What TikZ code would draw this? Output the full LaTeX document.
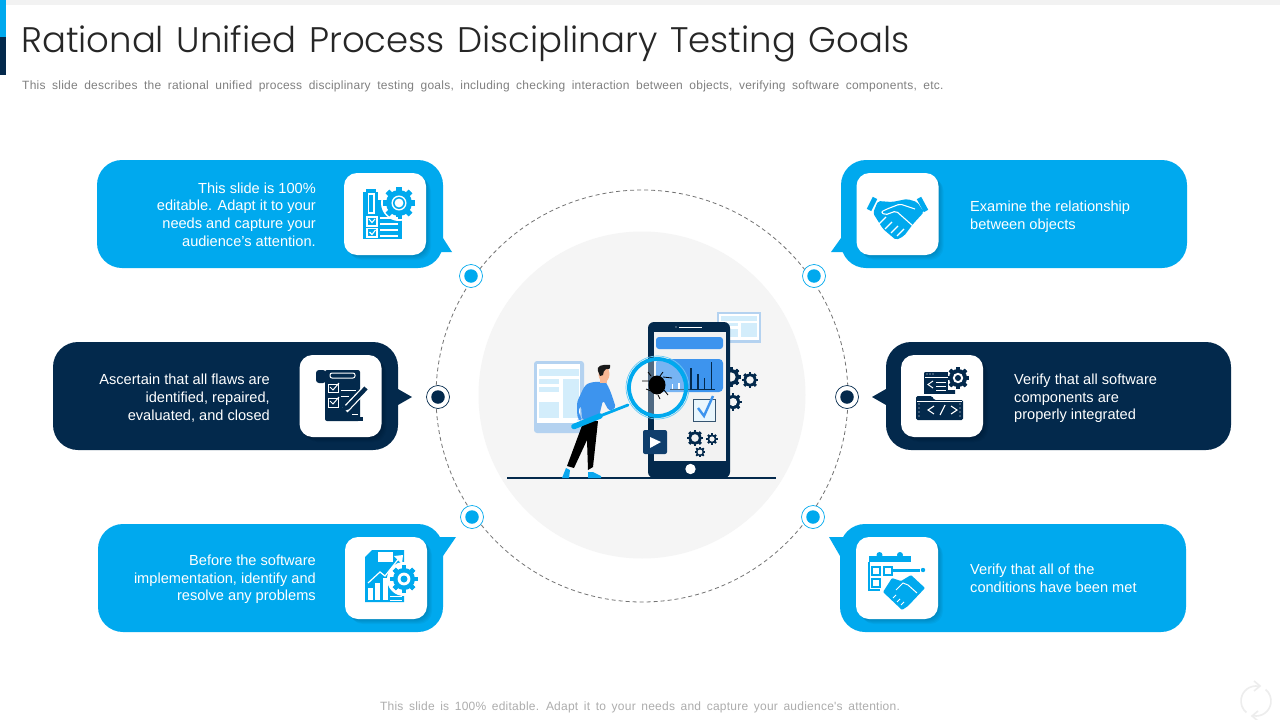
\documentclass[tikz,border=0pt]{standalone}
\usepackage{fontspec}
\setmainfont{Liberation Sans}
\newfontfamily\titlefont[WordSpace=1.3]{Poppins Light}
\newfontfamily\subfont[LetterSpace=2.0]{Liberation Sans}
\usetikzlibrary{calc}
\definecolor{cy}{HTML}{00A9EE}
\definecolor{nv}{HTML}{03294C}
\definecolor{pb}{HTML}{3D94EE}
\definecolor{lb}{HTML}{D3EDFB}
\definecolor{fr}{HTML}{B4D2F0}
\definecolor{sk}{HTML}{F8B794}
\tikzset{
 bubble/.style={rounded corners=25pt,minimum width=346pt,minimum height=108pt,inner sep=0pt,draw=none},
 iconbox/.style={rounded corners=13pt,minimum width=82pt,minimum height=82pt,inner sep=0pt,fill=white},
 bodytext/.style={text=white,font=\fontsize{14.6}{17.7}\selectfont,inner sep=0pt},
 marker/.style={circle,fill=white,minimum size=23pt,inner sep=0pt,line width=.7pt},
 dot/.style={circle,minimum size=13.5pt,inner sep=0pt},
 wl/.style={draw=white,line width=1.1pt,fill=none},
}
% gear: x, y, radius, colour
\newcommand{\gearshape}[4]{%
 \foreach \ga in {0,45,...,315}{\fill[#4,rotate around={\ga:(#1,#2)}] ($(#1,#2)+(-#3*.2,-#3*1.25)$) rectangle ($(#1,#2)+(#3*.2,#3*1.25)$);}
 \fill[#4] (#1,#2) circle[radius=#3];}
% outlined gear with hole in bg colour
\newcommand{\ringgear}[5]{%
 \gearshape{#1}{#2}{#3}{#4}\fill[#5] (#1,#2) circle[radius=#3*.58];}
\begin{document}
\begin{tikzpicture}[x=1pt,y=-1pt]
\useasboundingbox (0,0) rectangle (1280,720);
\fill[white] (0,0) rectangle (1280,720);
% header
\fill[black!5] (6,0) rectangle (1280,5);
\fill[cy] (0,0) rectangle (6,37);
\fill[nv] (0,37) rectangle (6,75);
\node[anchor=base west,inner sep=0pt,text=black!85,font=\titlefont\fontsize{35.5}{40}\selectfont] (title) at (21,52) {Rational Unified Process Disciplinary Testing Goals};
\node[anchor=base west,inner sep=0pt,text=black!50,font=\subfont\fontsize{12}{14}\selectfont] (sub) at (22,89) {\spaceskip=6.55pt This slide describes the rational unified process disciplinary testing goals, including checking interaction between objects, verifying software components, etc.};
\node[anchor=base,inner sep=0pt,text=black!32,font=\subfont\fontsize{12}{14}\selectfont] (foot) at (640,710) {\spaceskip=5.63pt This slide is 100\% editable. Adapt it to your needs and capture your audience's attention.};
% refresh mark
\begin{scope}[black!7,line width=1.6pt]
\draw (1256,701)+(-80:15) arc[start angle=-80,end angle=-230,radius=15];
\draw (1256,701)+(100:15) arc[start angle=100,end angle=-50,radius=15];
\draw (1254,681) -- (1260,686) -- (1254,691);
\draw (1258,711) -- (1252,716) -- (1258,721);
\end{scope}
% central
\fill[black!4] (642,395) circle[radius=163.5];
\draw[black!55,line width=.8pt,dash pattern=on 4pt off 3pt] (642,396) circle[radius=206];
% bubbles
\node[bubble,fill=cy] (b1) at (270,214) {};
\fill[cy] (443,238) -- (452,252) -- (436,252) -- cycle;
\node[bubble,fill=nv,minimum width=345pt] (b2) at (225.5,396) {};
\fill[nv] (398,389) -- (412,397) -- (398,405) -- cycle;
\node[bubble,fill=cy,minimum width=345pt] (b3) at (270.5,578) {};
\fill[cy] (436,537) -- (456,537) -- (443,556) -- cycle;
\node[bubble,fill=cy] (b4) at (1014,214) {};
\fill[cy] (841,238) -- (831,252) -- (848,252) -- cycle;
\node[bubble,fill=nv,minimum width=345pt] (b5) at (1058.5,396) {};
\fill[nv] (886,389) -- (872,397) -- (886,405) -- cycle;
\node[bubble,fill=cy] (b6) at (1013,578) {};
\fill[cy] (848,537) -- (829,537) -- (840,556) -- cycle;
% icon boxes
\foreach \bx/\by/\nm in {385/214/i1,340.5/396/i2,386/578/i3,897.5/214/i4,942/396/i5,897/578/i6}{
 \foreach \ds in {1,2,3,4,5}{\fill[rounded corners=13pt,black,fill opacity=.035] (\bx-41+\ds,\by-41+\ds) rectangle (\bx+41+\ds,\by+41+\ds);}
 \node[iconbox] (\nm) at (\bx,\by) {};
}
% markers
\node[marker,draw=cy] (m1) at (471,276) {};\node[dot,fill=cy] at (m1) {};
\node[marker,draw=nv] (m2) at (438,397) {};\node[dot,fill=nv] at (m2) {};
\node[marker,draw=cy] (m3) at (472,517) {};\node[dot,fill=cy] at (m3) {};
\node[marker,draw=cy] (m4) at (814,276) {};\node[dot,fill=cy] at (m4) {};
\node[marker,draw=nv] (m5) at (847,397) {};\node[dot,fill=nv] at (m5) {};
\node[marker,draw=cy] (m6) at (813,517) {};\node[dot,fill=cy] at (m6) {};
% texts
\node[bodytext,align=right,anchor=east] (t1) at (316,214.5) {This slide is 100\%\\editable. Adapt it to your\\needs and capture your\\audience's attention.};
\node[bodytext,align=right,anchor=east] (t2) at (270,398) {Ascertain that all flaws are\\identified, repaired,\\evaluated, and closed};
\node[bodytext,align=right,anchor=east] (t3) at (316,579.5) {Before the software\\implementation, identify and\\resolve any problems};
\node[bodytext,align=left,anchor=west] (t4) at (970,217) {Examine the relationship\\between objects};
\node[bodytext,align=left,anchor=west] (t5) at (1014,398.5) {Verify that all software\\components are\\properly integrated};
\node[bodytext,align=left,anchor=west] (t6) at (970,578) {Verify that all of the\\conditions have been met};
% ---- icon 1
\fill[cy] (363,192) rectangle (402,239);
\fill[white] (378,190) rectangle (403,200);
\fill[white] (399,203) circle[radius=18];
\ringgear{399}{203}{13}{cy}{white}
\fill[cy] (399,203) circle[radius=6];
\fill[white] (399,203) circle[radius=4.4];
\fill[cy] (366,188.5) rectangle (376,192);
\draw[wl] (368.5,194) rectangle (374,213);
\draw[wl] (367,217) rectangle (377,226);
\draw[wl] (367,228.5) rectangle (377,237);
\draw[wl] (369.5,232) -- (372,234.5) -- (375.5,230);
\draw[wl] (369,219) -- (372,222.5) -- (375,219);
\foreach \ly in {218,224,230,236}{\draw[white,line width=1.1pt] (380,\ly) -- (398,\ly);}
% ---- icon 2
\fill[nv,rounded corners=2pt] (325,370) rectangle (360,421);
\fill[nv,rounded corners=3pt] (316,370) rectangle (326,383);
\fill[nv] (333,417) rectangle (363,421);
\draw[white,line width=1pt,rounded corners=2pt] (330,373) rectangle (355,378);
\draw[white,line width=1pt] (328,384) rectangle (338,392);
\draw[white,line width=1pt] (328,398) rectangle (338,407);
\draw[white,line width=1pt] (330,387) -- (333,390) -- (339,383);
\draw[white,line width=1pt] (330,401) -- (333,404) -- (339,397);
\draw[white,line width=1pt] (341,390) -- (356,390);
\draw[white,line width=1pt] (341,396) -- (349,396);
\draw[white,line width=7pt] (345,410) -- (366,388);
\draw[nv,line width=4.4pt] (347,408) -- (366,388);
\fill[nv] (340,413) -- (344,404) -- (349,409) -- cycle;
\draw[white,line width=1pt] (352,414) -- (358,414);
% ---- icon 3 (bottom left)
\fill[cy] (372,550) -- (404,550) -- (404,602) -- (365,602) -- (365,557) -- cycle;
\fill[white] (378,552) rectangle (393,562);
\draw[white,line width=1.2pt] (368,583) -- (380,572) -- (385,576) -- (400,557);
\fill[white] (394,556) -- (403,555) -- (402,564) -- cycle;
\fill[white] (368,588) rectangle (373,600);
\fill[white] (375,583) rectangle (380,600);
\fill[white] (382.5,578) rectangle (387.5,600);
\fill[white] (404,579) circle[radius=17];
\ringgear{404}{579}{11}{cy}{white}
\fill[cy] (404,579) circle[radius=3.5];
\draw[white,line width=1pt] (390,596) -- (402,596) (390,600) -- (402,600);
% ---- icon 4 handshake
\draw[cy,line width=5pt] (869,210) -- (875,198);
\draw[cy,line width=5pt] (926,211) -- (919,198);
\fill[cy,rounded corners=2pt] (878,201) -- (892,202) -- (907,199) -- (917,202) -- (924,212) -- (913,224) -- (904,236) -- (896,240) -- (883,229) -- (873,213) -- cycle;
\draw[white,line width=1.1pt,rounded corners=2pt] (915,209) -- (900,204) -- (887,209) -- (881,212) -- (885,215) -- (896,211) -- (913,226);
\foreach \fx/\fy in {879/224,885/229,891/233,897/236}{\draw[white,line width=1.3pt] (\fx,\fy) -- (\fx+7,\fy-7);}
% ---- icon 5 code
\fill[nv,rounded corners=1pt] (924,372) rectangle (955,396);
\fill[white] (948,366) rectangle (972,390);
\ringgear{958}{378}{9}{nv}{white}
\fill[nv] (958,378) circle[radius=3];
\draw[white,line width=1pt] (925,377) -- (948,377);
\foreach \dx in {927,930,933}{\fill[white] (\dx,374) circle[radius=.7];}
\draw[white,line width=1pt] (933,381) -- (928,384.5) -- (933,388);
\draw[white,line width=1pt] (936,382) -- (946,382) (936,386) -- (946,386) (936,390) -- (946,390);
\fill[white] (915,394) rectangle (964,396.5);
\fill[nv,rounded corners=1.5pt] (916,396) -- (932,396) -- (934,400) -- (963,400) -- (963,420) -- (916,420) -- cycle;
\draw[white,line width=1pt] (917,401) -- (962,401);
\draw[white,line width=1.1pt] (934,406) -- (928,410) -- (934,414) (951,406) -- (957,410) -- (951,414) (945,405) -- (940,415);
\foreach \dy in {404,408,412,416}{\fill[white] (919,\dy) circle[radius=.7];\fill[white] (960,\dy) circle[radius=.7];}
% ---- icon 6 calendar
\fill[cy] (869,556) rectangle (911,562);
\fill[cy] (879.5,555) circle[radius=3];\fill[cy] (900,555) circle[radius=3];
\draw[cy,line width=1.1pt] (869,562) -- (869,590) -- (880,590);
\draw[cy,line width=1.8pt] (872,567) rectangle (880,575);
\draw[cy,line width=1.8pt] (884,567) rectangle (892,575);
\draw[cy,line width=1.8pt] (872,579) rectangle (880,587);
\draw[cy,line width=3pt] (893,570) -- (920,570);
\fill[cy] (923,570) circle[radius=2.2];
\fill[cy,rounded corners=1pt] (883,592) -- (892,578) -- (901,581) -- (911,575) -- (925,588) -- (908,606) -- (902,610) -- cycle;
\draw[white,line width=1pt] (896,590) -- (903,583) -- (908,585) -- (917,593);
\foreach \fx/\fy in {893/598,897/602,901/605}{\draw[white,line width=.8pt] (\fx,\fy) -- (\fx+3,\fy-3);}
% ---- illustration
% back window
\fill[fr] (717,312) rectangle (761,343);
\fill[white] (719,314) rectangle (759,340);
\fill[lb] (721,316) rectangle (757,321);
\fill[lb] (741,323) rectangle (757,337);
\fill[lb] (721,323) rectangle (738,326);
\fill[lb] (721,329) rectangle (738,337);
% tablet
\fill[fr,rounded corners=3pt] (534,361) rectangle (584,433);
\fill[white] (537,364) rectangle (580,423);
\fill[lb] (539,369) rectangle (579,376);
\fill[lb] (539,379) rectangle (559,384);
\fill[lb] (539,387) rectangle (559,392);
\fill[lb] (563,379) rectangle (579,418);
\fill[lb] (539,402) rectangle (559,418);
% gears behind the phone
\ringgear{731}{377}{8}{nv}{black!4}
\ringgear{733}{402}{7}{nv}{black!4}
\ringgear{750}{380}{6.5}{nv}{black!4}
% ground
\draw[nv,line width=1.1pt] (507,478) -- (776,478);
% phone
\fill[nv,rounded corners=6pt] (648,322) rectangle (730,478);
\fill[black!5] (654,332) rectangle (726,461);
\fill[white] (690.5,469) circle[radius=5.2];
\draw[white,line width=1pt] (679,327) -- (702,327);
\fill[white] (676,327) circle[radius=.7];
\fill[pb,rounded corners=3pt] (656,337) rectangle (723,349);
\fill[pb,rounded corners=4pt] (656,359) rectangle (723,392);
\draw[nv,line width=.8pt] (670,389) -- (715,389);
\foreach \bx/\bt in {691/368,698/373.5,704.5/378,711.5/362}{\draw[nv,line width=1.2pt] (\bx,389) -- (\bx,\bt);}
\draw[white,line width=1.2pt] (679,389) -- (679,383);
\draw[white,line width=1.2pt] (672.5,389) -- (672.5,384);
% check box
\fill[lb!50] (693.5,399.5) rectangle (715.5,421.5);
\draw[nv!80,line width=.8pt] (693.5,399.5) rectangle (715.5,421.5);
\draw[pb,line width=2.4pt] (698,408) -- (704,416) -- (713,396);
% gears on screen
\ringgear{695}{438}{6.5}{nv}{black!5}
\ringgear{712}{439}{4.5}{nv}{black!5}
\ringgear{700}{452}{4.2}{nv}{black!5}
% play
\fill[nv!80!pb,rounded corners=2pt] (643,430) rectangle (667,454);
\fill[white] (650,437) -- (661,442) -- (650,448) -- cycle;
% man legs
\fill[black] (591,421) -- (598,421) -- (593,467) -- (588,470) -- (587,440) -- (574,468) -- (567,466) -- (583,423) -- cycle;
\fill[cy!85!pb] (566,468) -- (570,470) -- (569,478) -- (562,478) -- cycle;
\fill[cy!85!pb] (588,472) -- (593,472) -- (601,476) -- (601,478) -- (588,478) -- cycle;
% torso
\fill[pb,rounded corners=3pt] (584,387) .. controls (590,381) and (605,381) .. (608,386) .. controls (612,395) and (615,405) .. (616,408) -- (609,411) -- (603,400) -- (598,421) -- (582,420) -- (581,405) -- (578,412) -- (582,418) -- (580,420) -- (578,420) -- (577,412) -- (577,402) -- cycle;
% head
\fill[sk] (600,383) -- (607,383) -- (607,376) -- (600,376) -- cycle;
\fill[sk] (604,374) ellipse[x radius=5.5,y radius=8];
\fill[black!90] (598,371) .. controls (596,366) and (602,364) .. (610,365) .. controls (611,368) and (609,370) .. (606,369) .. controls (604,371) and (603,372) .. (603,375) -- (600,376) -- cycle;
% magnifier glass
\fill[white,fill opacity=.3] (657.5,387.5) circle[radius=29];
% bug
\fill[black] (657,385) ellipse[x radius=8.5,y radius=9.5];
\draw[black,line width=.8pt] (650,381) -- (642,381) (651,376) -- (648,372) (663,377) -- (672,378) (660,376) -- (663,372) (651,391) -- (646,389) (658,395) -- (660,399) (664,390) -- (668,395);
% handle
\draw[cy,line width=2.8pt,line cap=round] (628,405) -- (600,416);
\draw[cy,line width=5.5pt,line cap=round] (600,416) -- (574,426.5);
% ring
\draw[cy,line width=3.8pt] (657.5,387.5) circle[radius=28.5];
\draw[cy!60,line width=.7pt] (657.5,387.5) circle[radius=31.5];
\end{tikzpicture}
\end{document}
